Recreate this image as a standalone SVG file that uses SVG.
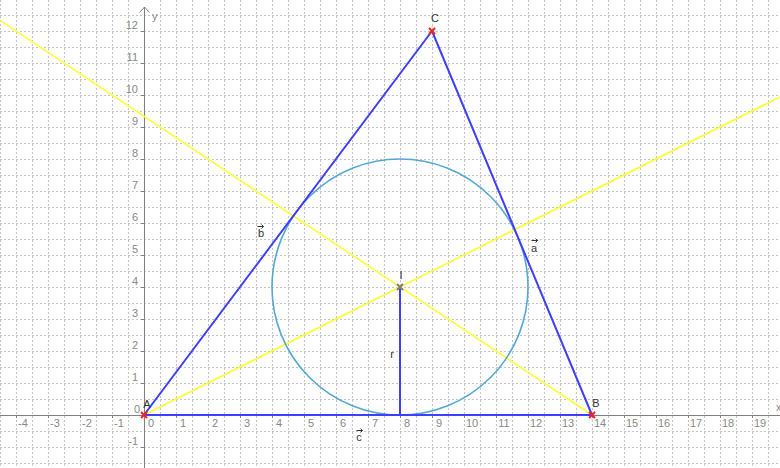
<svg xmlns="http://www.w3.org/2000/svg" width="780" height="468" viewBox="0 0 780 468">
<defs>
<style>
.grid line{stroke:#c4c4c4;stroke-width:1;stroke-dasharray:2,2}
.axis{stroke:#808080;stroke-width:1;fill:none}
.tl{font-family:"Liberation Sans",Arial,sans-serif;font-size:11px;fill:#888888}
.xl{text-anchor:middle}
.yl{text-anchor:end}
.pl{font-family:"Liberation Sans",Arial,sans-serif;font-size:11px;fill:#333333;text-anchor:middle}
.tri{stroke:#3f3fff;stroke-width:2;fill:none;stroke-linejoin:round}
.bis{stroke:#ffff33;stroke-width:1.6;fill:none}
.inc{stroke:#55a8d6;stroke-width:1.6;fill:none}
.mk{stroke:#ff2020;stroke-width:2}
.mki{stroke:#808080;stroke-width:2}
.va{stroke:#333333;stroke-width:1;fill:none}
</style>
</defs>
<rect width="780" height="468" fill="#ffffff"/>
<g class="grid" id="grid">
<line x1="0.5" y1="0" x2="0.5" y2="468"/><line x1="16.5" y1="0" x2="16.5" y2="468"/><line x1="32.5" y1="0" x2="32.5" y2="468"/><line x1="48.5" y1="0" x2="48.5" y2="468"/><line x1="64.5" y1="0" x2="64.5" y2="468"/><line x1="80.5" y1="0" x2="80.5" y2="468"/><line x1="96.5" y1="0" x2="96.5" y2="468"/><line x1="112.5" y1="0" x2="112.5" y2="468"/><line x1="128.5" y1="0" x2="128.5" y2="468"/>
<line x1="160.5" y1="0" x2="160.5" y2="468"/><line x1="176.5" y1="0" x2="176.5" y2="468"/><line x1="192.5" y1="0" x2="192.5" y2="468"/><line x1="208.5" y1="0" x2="208.5" y2="468"/><line x1="224.5" y1="0" x2="224.5" y2="468"/><line x1="240.5" y1="0" x2="240.5" y2="468"/><line x1="256.5" y1="0" x2="256.5" y2="468"/><line x1="272.5" y1="0" x2="272.5" y2="468"/><line x1="288.5" y1="0" x2="288.5" y2="468"/><line x1="304.5" y1="0" x2="304.5" y2="468"/><line x1="320.5" y1="0" x2="320.5" y2="468"/><line x1="336.5" y1="0" x2="336.5" y2="468"/><line x1="352.5" y1="0" x2="352.5" y2="468"/><line x1="368.5" y1="0" x2="368.5" y2="468"/><line x1="384.5" y1="0" x2="384.5" y2="468"/><line x1="400.5" y1="0" x2="400.5" y2="468"/><line x1="416.5" y1="0" x2="416.5" y2="468"/><line x1="432.5" y1="0" x2="432.5" y2="468"/><line x1="448.5" y1="0" x2="448.5" y2="468"/><line x1="464.5" y1="0" x2="464.5" y2="468"/><line x1="480.5" y1="0" x2="480.5" y2="468"/><line x1="496.5" y1="0" x2="496.5" y2="468"/><line x1="512.5" y1="0" x2="512.5" y2="468"/><line x1="528.5" y1="0" x2="528.5" y2="468"/><line x1="544.5" y1="0" x2="544.5" y2="468"/><line x1="560.5" y1="0" x2="560.5" y2="468"/><line x1="576.5" y1="0" x2="576.5" y2="468"/><line x1="592.5" y1="0" x2="592.5" y2="468"/><line x1="608.5" y1="0" x2="608.5" y2="468"/><line x1="624.5" y1="0" x2="624.5" y2="468"/><line x1="640.5" y1="0" x2="640.5" y2="468"/><line x1="656.5" y1="0" x2="656.5" y2="468"/><line x1="672.5" y1="0" x2="672.5" y2="468"/><line x1="688.5" y1="0" x2="688.5" y2="468"/><line x1="704.5" y1="0" x2="704.5" y2="468"/><line x1="720.5" y1="0" x2="720.5" y2="468"/><line x1="736.5" y1="0" x2="736.5" y2="468"/><line x1="752.5" y1="0" x2="752.5" y2="468"/><line x1="768.5" y1="0" x2="768.5" y2="468"/>
<line x1="0" y1="15.5" x2="780" y2="15.5"/><line x1="0" y1="31.5" x2="780" y2="31.5"/><line x1="0" y1="47.5" x2="780" y2="47.5"/><line x1="0" y1="63.5" x2="780" y2="63.5"/><line x1="0" y1="79.5" x2="780" y2="79.5"/><line x1="0" y1="95.5" x2="780" y2="95.5"/><line x1="0" y1="111.5" x2="780" y2="111.5"/><line x1="0" y1="127.5" x2="780" y2="127.5"/><line x1="0" y1="143.5" x2="780" y2="143.5"/><line x1="0" y1="159.5" x2="780" y2="159.5"/><line x1="0" y1="175.5" x2="780" y2="175.5"/><line x1="0" y1="191.5" x2="780" y2="191.5"/><line x1="0" y1="207.5" x2="780" y2="207.5"/><line x1="0" y1="223.5" x2="780" y2="223.5"/><line x1="0" y1="239.5" x2="780" y2="239.5"/><line x1="0" y1="255.5" x2="780" y2="255.5"/><line x1="0" y1="271.5" x2="780" y2="271.5"/><line x1="0" y1="287.5" x2="780" y2="287.5"/><line x1="0" y1="303.5" x2="780" y2="303.5"/><line x1="0" y1="319.5" x2="780" y2="319.5"/><line x1="0" y1="335.5" x2="780" y2="335.5"/><line x1="0" y1="351.5" x2="780" y2="351.5"/><line x1="0" y1="367.5" x2="780" y2="367.5"/><line x1="0" y1="383.5" x2="780" y2="383.5"/><line x1="0" y1="399.5" x2="780" y2="399.5"/>
<line x1="0" y1="431.5" x2="780" y2="431.5"/><line x1="0" y1="447.5" x2="780" y2="447.5"/><line x1="0" y1="463.5" x2="780" y2="463.5"/>
</g>
<g id="axes">
<path class="axis" d="M0 415.5H780M144.5 468V7M139.5 12.5L144.5 7L149.5 12.5"/>
<path class="axis" d="M16.5 415v3M48.5 415v3M80.5 415v3M112.5 415v3M176.5 415v3M208.5 415v3M240.5 415v3M272.5 415v3M304.5 415v3M336.5 415v3M368.5 415v3M400.5 415v3M432.5 415v3M464.5 415v3M496.5 415v3M528.5 415v3M560.5 415v3M592.5 415v3M624.5 415v3M656.5 415v3M688.5 415v3M720.5 415v3M752.5 415v3"/>
<path class="axis" d="M141 31.5h3M141 63.5h3M141 95.5h3M141 127.5h3M141 159.5h3M141 191.5h3M141 223.5h3M141 255.5h3M141 287.5h3M141 319.5h3M141 351.5h3M141 383.5h3M141 447.5h3"/>
<text class="tl" x="152" y="20">y</text>
<text class="tl" x="776" y="411">x</text>
<g class="tl xl">
<text x="23" y="427">-4</text><text x="55" y="427">-3</text><text x="87" y="427">-2</text><text x="119" y="427">-1</text><text x="151" y="427">0</text><text x="183" y="427">1</text><text x="215" y="427">2</text><text x="247" y="427">3</text><text x="279" y="427">4</text><text x="311" y="427">5</text><text x="343" y="427">6</text><text x="375" y="427">7</text><text x="407" y="427">8</text><text x="439" y="427">9</text><text x="472" y="427">10</text><text x="504" y="427">11</text><text x="536" y="427">12</text><text x="568" y="427">13</text><text x="600" y="427">14</text><text x="632" y="427">15</text><text x="664" y="427">16</text><text x="696" y="427">17</text><text x="728" y="427">18</text><text x="760" y="427">19</text>
</g>
<g class="tl yl">
<text x="138" y="29">12</text><text x="138" y="61">11</text><text x="138" y="93">10</text><text x="138" y="125">9</text><text x="138" y="157">8</text><text x="138" y="189">7</text><text x="138" y="221">6</text><text x="138" y="253">5</text><text x="138" y="285">4</text><text x="138" y="317">3</text><text x="138" y="349">2</text><text x="138" y="381">1</text><text x="140" y="413">0</text><text x="138" y="445">-1</text>
</g>
</g>
<g id="connectors">
<line id="bisA" class="bis" x1="144" y1="415" x2="780" y2="97"/>
<line id="bisB" class="bis" x1="592" y1="415" x2="0" y2="20.33"/>
<circle id="incircle" class="inc" cx="400" cy="287" r="128"/>
<polygon id="triangle" class="tri" points="144,415 592,415 432,31"/>
<line id="radius" class="tri" x1="400" y1="287" x2="400" y2="415"/>
</g>
<g id="A">
<path class="mk" d="M141 412l6 6M147 412l-6 6"/>
<text class="pl" x="147" y="408">A</text>
</g>
<g id="B">
<path class="mk" d="M589 412l6 6M595 412l-6 6"/>
<text class="pl" x="596" y="407">B</text>
</g>
<g id="C">
<path class="mk" d="M429 28l6 6M435 28l-6 6"/>
<text class="pl" x="435" y="22">C</text>
</g>
<g id="I">
<path class="mki" d="M397 284l6 6M403 284l-6 6"/>
<text class="pl" x="401" y="279">I</text>
</g>
<g id="r">
<text class="pl" x="392" y="358">r</text>
</g>
<g id="vec-b">
<text class="pl" x="261" y="237">b</text>
<path class="va" d="M257.5 226.5h6M261.5 224.5l2 2l-2 2"/>
</g>
<g id="vec-a">
<text class="pl" x="534" y="252">a</text>
<path class="va" d="M531.5 240.5h6M535.5 238.5l2 2l-2 2"/>
</g>
<g id="vec-c">
<text class="pl" x="359" y="441">c</text>
<path class="va" d="M356.5 430.5h6M360.5 428.5l2 2l-2 2"/>
</g>
</svg>
